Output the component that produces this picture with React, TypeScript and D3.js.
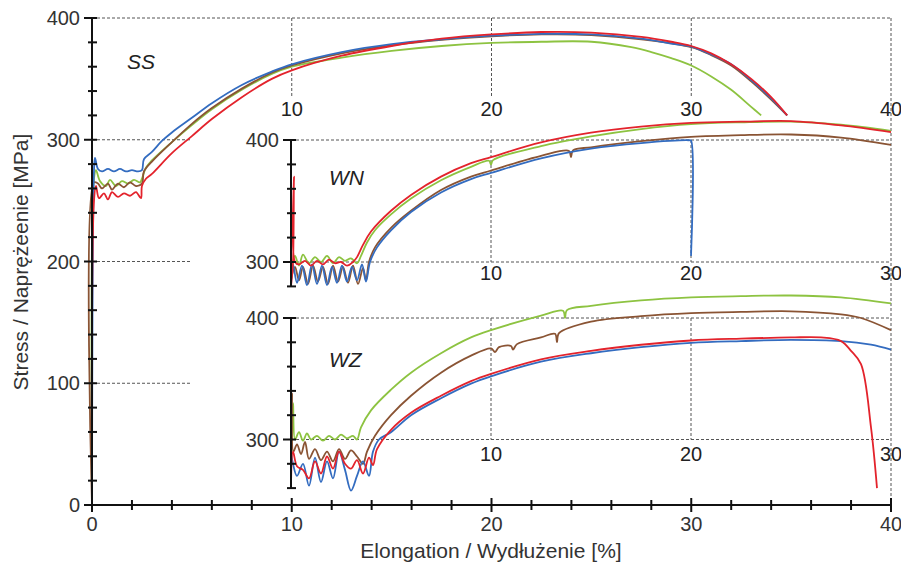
import React from 'react';
import * as d3 from 'd3';

type Pt = [number, number];

// tick labels
const mainXTicks = [0, 10, 20, 30, 40];
const mainYTicks = [0, 100, 200, 300, 400];
const insetXTicks = [10, 20, 30];
const insetYTicks = [300, 400];

const colors = { blue: '#336cc0', red: '#e3232c', green: '#8dc341', brown: '#8a5434' };

// SS specimens (main chart)
const ssGreen: Pt[] = [[0, 0], [0.1, 268], [0.2, 275], [0.4, 266], [0.7, 262], [0.9, 267], [1.2, 262], [1.5, 266], [1.8, 264], [2.1, 267], [2.4, 265], [2.5, 268], [2.7, 277], [3, 283], [4, 298], [5, 312], [6, 325], [7.5, 341], [9, 354], [10, 360], [12.5, 367.5], [15, 373], [17.5, 377], [20, 379.5], [22.5, 380.5], [25, 380.5], [27, 376], [28, 372], [29, 367], [30, 361], [31, 352], [32, 341], [33, 327], [33.5, 320]];
const ssBrown: Pt[] = [[0, 0], [0.1, 265], [0.3, 264], [0.5, 260], [0.8, 264], [1.0, 259], [1.3, 264], [1.6, 261], [1.9, 265], [2.2, 262], [2.5, 264], [2.6, 274], [3, 282], [4, 298], [5, 313], [6, 326], [7.5, 342], [9, 355], [10, 361], [12.5, 371], [15, 377.5], [17.5, 382], [20, 385], [22.5, 386.5], [25, 386], [27.5, 382.5], [30, 376], [31, 369.5], [32, 361], [33, 348], [34, 333], [34.8, 320]];
const ssBlue: Pt[] = [[0, 0], [0.1, 275], [0.15, 285], [0.3, 276], [0.5, 274], [0.8, 276], [1.1, 274], [1.4, 276], [1.7, 274], [2.0, 275], [2.3, 274], [2.5, 275], [2.6, 284], [3, 290], [3.5, 299], [4, 306], [5, 318], [6, 330], [7.5, 345], [9, 356], [10, 362], [12.5, 372], [15, 378.5], [17.5, 382.5], [20, 385.5], [22.5, 387], [25, 386.5], [27.5, 383], [29, 379], [30, 376.5], [31, 370], [32, 362], [33, 349], [34, 334], [34.8, 320]];
const ssRed: Pt[] = [[0, 0], [0.1, 250], [0.2, 262], [0.35, 252], [0.6, 256], [0.8, 251], [1.0, 257], [1.3, 253], [1.6, 256], [1.9, 254], [2.2, 257], [2.45, 252], [2.5, 262], [2.7, 268], [3, 272], [4, 289], [5, 303], [6, 317], [7.5, 335], [9, 350], [10, 357], [12.5, 369], [15, 377], [17.5, 383], [20, 386.5], [22.5, 388.5], [25, 388], [27.5, 384.5], [29, 380.5], [30, 377], [31, 371], [32, 362], [33, 350], [34, 335], [34.8, 320]];

// WN specimens (upper inset)
const wnBrown: Pt[] = [[0, 285], [0.2, 296], [0.4, 285], [0.6, 296], [0.85, 282], [1.1, 297], [1.35, 284], [1.6, 296], [1.85, 282], [2.1, 297], [2.35, 284], [2.6, 296], [2.85, 283], [3.1, 297], [3.35, 282], [3.6, 295], [3.75, 285], [3.9, 300], [4.2, 312], [5, 328], [6, 342], [7.5, 359], [9, 370], [10, 375], [12.5, 387], [13.9, 391], [14, 386], [14.1, 391.5], [15, 394], [17.5, 399], [20, 402.5], [22.5, 404], [25, 404.5], [27.5, 402], [30, 396]];
const wnBlue: Pt[] = [[0, 280], [0.1, 298], [0.3, 283], [0.55, 297], [0.8, 281], [1.05, 298], [1.3, 282], [1.55, 297], [1.8, 281], [2.05, 296], [2.3, 283], [2.55, 297], [2.8, 284], [3.05, 296], [3.3, 285], [3.55, 298], [3.75, 284], [3.95, 300], [4.3, 312], [5, 326], [6, 341], [7.5, 357], [9, 368], [10, 373], [12.5, 385], [15, 393], [17.5, 397.5], [19.9, 399.8], [20, 399.5], [20, 305]];
const wnGreen: Pt[] = [[0, 290], [0.2, 305], [0.4, 297], [0.6, 306], [0.9, 299], [1.2, 304], [1.5, 300], [1.8, 305], [2.1, 299], [2.4, 304], [2.7, 301], [3.0, 303], [3.3, 299], [3.5, 305], [3.8, 316], [4.2, 326], [5, 339], [6, 352], [7.5, 367], [9, 378], [9.9, 383], [10, 380], [10.1, 383.5], [12.5, 395], [15, 403], [17.5, 409], [20, 413], [22.5, 414.5], [25, 415], [27.5, 412.5], [30, 407.5]];
const wnRed: Pt[] = [[0, 280], [0.1, 300], [0.15, 370], [0.2, 300], [0.4, 298], [0.7, 301], [1.0, 297], [1.3, 301], [1.6, 298], [1.9, 302], [2.2, 299], [2.5, 300], [2.8, 297], [3.1, 300], [3.3, 304], [3.6, 314], [4, 325], [5, 342], [6, 355], [7.5, 370], [9, 381], [10, 386], [12.5, 398], [15, 406], [17.5, 411], [20, 414], [22.5, 415], [25, 415.5], [27.5, 412], [30, 406.5]];

// WZ specimens (lower inset)
const wzGreen: Pt[] = [[0, 270], [0.1, 330], [0.2, 300], [0.4, 306], [0.6, 299], [0.8, 305], [1.0, 300], [1.3, 303], [1.6, 299], [1.9, 303], [2.2, 300], [2.5, 304], [2.8, 301], [3.1, 303], [3.3, 300], [3.5, 310], [4, 324], [5, 341], [6, 355], [7.5, 371], [9, 384], [10, 390], [12.5, 402], [13.6, 406], [13.7, 400], [13.8, 406.5], [15, 410], [17.5, 414.5], [20, 417], [22.5, 418], [25, 418.5], [27.5, 417], [30, 412]];
const wzBrown: Pt[] = [[0, 285], [0.05, 338], [0.12, 290], [0.3, 296], [0.5, 288], [0.7, 298], [0.9, 284], [1.2, 292], [1.5, 283], [1.8, 290], [2.1, 282], [2.4, 292], [2.7, 284], [3.0, 291], [3.3, 286], [3.6, 280], [3.8, 290], [4.2, 303], [5, 320], [6, 336], [7.5, 355], [9, 369], [10, 375], [10.2, 372], [10.4, 376], [11, 377], [11.1, 374], [11.3, 378.5], [12.5, 384], [13.2, 387], [13.3, 380], [13.4, 387.5], [15, 397], [17.5, 401.5], [20, 404], [22.5, 405], [25, 405.5], [27.5, 403], [28.5, 400], [30, 390]];
const wzBlue: Pt[] = [[0, 290], [0.1, 280], [0.3, 270], [0.6, 280], [0.9, 262], [1.2, 285], [1.5, 265], [1.8, 282], [2.1, 268], [2.4, 290], [2.7, 275], [3.0, 258], [3.3, 270], [3.6, 282], [3.9, 270], [4.1, 290], [4.4, 300], [5, 306], [6, 320], [7.5, 334], [9, 346], [10, 352], [12.5, 364], [15, 371], [17.5, 376], [20, 379.5], [22.5, 381], [25, 382], [27.5, 381], [29, 378], [30, 374]];
const wzRed: Pt[] = [[0, 260], [0.1, 290], [0.3, 278], [0.6, 275], [0.9, 268], [1.2, 282], [1.5, 272], [1.8, 286], [2.1, 276], [2.4, 290], [2.7, 280], [3.0, 276], [3.3, 283], [3.6, 272], [3.9, 285], [4.1, 279], [4.3, 292], [5, 308], [6, 322], [7.5, 336], [9, 348], [10, 354], [12.5, 366], [15, 373], [17.5, 378], [20, 381.5], [22.5, 383], [25, 384], [26.5, 384], [27.5, 381], [28, 373], [28.5, 362], [29, 310], [29.3, 260]];

const W = 901;
const H = 566;
const FONT = 'Liberation Sans, Arial, sans-serif';

const xMain = d3.scaleLinear().domain([0, 40]).range([92, 891]);
const yMain = d3.scaleLinear().domain([0, 400]).range([505, 18]);
const xIn = d3.scaleLinear().domain([0, 30]).range([291, 891]);
const yWN = d3.scaleLinear().domain([300, 400]).range([262, 140]);
const yWZ = d3.scaleLinear().domain([300, 400]).range([439.5, 318]);

const makeLine = (xs: d3.ScaleLinear<number, number>, ys: d3.ScaleLinear<number, number>) =>
  d3.line<Pt>().x(d => xs(d[0])).y(d => ys(d[1])).curve(d3.curveCatmullRom.alpha(0.5));

const gridStyle = { stroke: '#555', strokeWidth: 1, strokeDasharray: '3,2' };
const axisStyle = { stroke: '#111', strokeWidth: 2 };

const Curves = ({ series, xs, ys }: { series: [Pt[], string][]; xs: any; ys: any }) => {
  const line = makeLine(xs, ys);
  return (
    <g fill="none" strokeWidth={1.8} strokeLinejoin="round">
      {series.map(([data, c], i) => (
        <path key={i} d={line(data) || ''} stroke={c} />
      ))}
    </g>
  );
};

// inset axis with ticks every 20 MPa down to a lower value
const InsetAxis = ({ ys, bottom }: { ys: any; bottom: number }) => {
  const ticks = d3.range(400, bottom - 1, -20);
  return (
    <g>
      <line x1={291} x2={291} y1={ys(400)} y2={ys(bottom)} style={axisStyle} />
      {ticks.map(t => (
        <line key={t} x1={insetYTicks.includes(t) ? 283 : 287} x2={296} y1={ys(t)} y2={ys(t)} style={axisStyle} />
      ))}
      {insetYTicks.map(t => (
        <text key={t} x={279} y={ys(t)} dy="0.35em" textAnchor="end" fontSize={20} fill="#333">{t}</text>
      ))}
    </g>
  );
};

const InsetGrid = ({ ys, labelY }: { ys: any; labelY: number }) => (
  <g>
    {insetYTicks.map(t => (
      <line key={t} x1={xIn(0)} x2={xIn(30)} y1={ys(t)} y2={ys(t)} style={gridStyle} />
    ))}
    {[10, 20].map(t => (
      <line key={t} x1={xIn(t)} x2={xIn(t)} y1={ys(400)} y2={ys(300)} style={gridStyle} />
    ))}
    {insetXTicks.map(t => (
      <text key={t} x={xIn(t)} y={labelY} dy="0.35em" textAnchor="middle" fontSize={20} fill="#222">{t}</text>
    ))}
  </g>
);

export default function App() {
  const yTicks = d3.range(0, 401, 20);
  const xTicks = d3.range(0, 41, 2);
  return (
    <svg width={W} height={H} style={{ position: 'absolute', left: 0, top: 0, background: '#fff' }} fontFamily={FONT}>
      <rect width={W} height={H} fill="#fff" />
      {/* main grid */}
      <line x1={xMain(0)} x2={xMain(40)} y1={yMain(400)} y2={yMain(400)} style={gridStyle} />
      {[100, 200, 300].map(t => (
        <line key={t} x1={xMain(0)} x2={xMain(5)} y1={yMain(t)} y2={yMain(t)} style={gridStyle} />
      ))}
      {[10, 20, 30].map(t => (
        <line key={t} x1={xMain(t)} x2={xMain(t)} y1={yMain(400)} y2={98} style={gridStyle} />
      ))}
      <line x1={xMain(40)} x2={xMain(40)} y1={yMain(400)} y2={yMain(0)} style={gridStyle} />
      {[10, 20, 30, 40].map(t => (
        <text key={t} x={xMain(t)} y={109} dy="0.35em" textAnchor="middle" fontSize={20} fill="#222">{t}</text>
      ))}

      <InsetGrid ys={yWN} labelY={273} />
      <InsetGrid ys={yWZ} labelY={454} />

      <Curves xs={xMain} ys={yMain} series={[[ssGreen, colors.green], [ssBrown, colors.brown], [ssBlue, colors.blue], [ssRed, colors.red]]} />
      <Curves xs={xIn} ys={yWN} series={[[wnBrown, colors.brown], [wnBlue, colors.blue], [wnGreen, colors.green], [wnRed, colors.red]]} />
      <Curves xs={xIn} ys={yWZ} series={[[wzGreen, colors.green], [wzBrown, colors.brown], [wzBlue, colors.blue], [wzRed, colors.red]]} />

      {/* main axes */}
      <line x1={xMain(0)} x2={xMain(0)} y1={yMain(400)} y2={yMain(0)} style={axisStyle} />
      {yTicks.map(t => (
        <line key={t} x1={t % 100 === 0 ? 84 : 88} x2={97} y1={yMain(t)} y2={yMain(t)} style={axisStyle} />
      ))}
      {mainYTicks.map(t => (
        <text key={t} x={80} y={yMain(t)} dy="0.35em" textAnchor="end" fontSize={20} fill="#333">{t}</text>
      ))}
      <line x1={xMain(0)} x2={xMain(40)} y1={yMain(0)} y2={yMain(0)} style={axisStyle} />
      {xTicks.map(t => (
        <line key={t} x1={xMain(t)} x2={xMain(t)} y1={t % 10 === 0 ? 498 : 500} y2={t % 10 === 0 ? 512 : 510} style={axisStyle} />
      ))}
      {mainXTicks.map(t => (
        <text key={t} x={xMain(t)} y={524} dy="0.35em" textAnchor="middle" fontSize={20} fill="#333">{t}</text>
      ))}

      <InsetAxis ys={yWN} bottom={280} />
      <InsetAxis ys={yWZ} bottom={260} />

      <text x={127} y={62} dy="0.35em" fontSize={21} fontStyle="italic" fill="#222">SS</text>
      <text x={329} y={178} dy="0.35em" fontSize={21} fontStyle="italic" fill="#222">WN</text>
      <text x={329} y={360} dy="0.35em" fontSize={21} fontStyle="italic" fill="#222">WZ</text>

      <text x={491} y={551} dy="0.35em" textAnchor="middle" fontSize={21} fill="#333">Elongation / Wydłużenie [%]</text>
      <text transform="translate(21,262) rotate(-90)" dy="0.35em" textAnchor="middle" fontSize={21} fill="#333">Stress / Naprężeenie [MPa]</text>
    </svg>
  );
}
